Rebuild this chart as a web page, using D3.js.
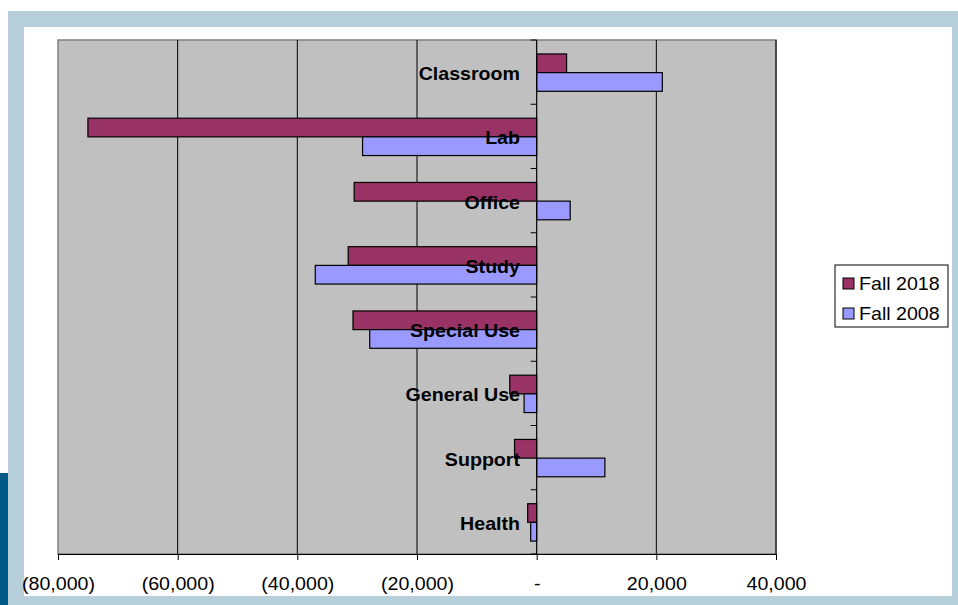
<!DOCTYPE html>
<html>
<head>
<meta charset="utf-8">
<script src="https://cdn.jsdelivr.net/npm/d3@7"></script>
<style>
  html, body { margin: 0; padding: 0; background: #fff; }
  svg { display: block; }
</style>
</head>
<body>
<div id="chart"></div>
<script>
const WIDTH = 958;
const HEIGHT = 605;

// data
const categories = ['Classroom', 'Lab', 'Office', 'Study', 'Special Use', 'General Use', 'Support', 'Health'];
const series = ['Fall 2018', 'Fall 2008'];
const fall2018 = [5000, -75000, -30500, -31500, -30700, -4500, -3700, -1500];
const fall2008 = [21000, -29100, 5600, -37000, -27900, -2100, 11400, -1000];
const xTicks = [-80000, -60000, -40000, -20000, 0, 20000, 40000];

const COLORS = ['#993366', '#9999FF'];
const PLOT = { left: 58, right: 776, top: 40, bottom: 554 };
const STRETCH = 1.09;

const svg = d3.select('#chart').append('svg')
    .attr('width', WIDTH)
    .attr('height', HEIGHT)
    .style('font-family', 'Liberation Sans, Arial, sans-serif');

// slide frame
svg.append('rect').attr('x', 8).attr('y', 11).attr('width', WIDTH - 8).attr('height', HEIGHT - 11).attr('fill', '#B7CFDB');
svg.append('rect').attr('x', 24).attr('y', 27).attr('width', 928).attr('height', 569).attr('fill', '#fff');
svg.append('rect').attr('x', 0).attr('y', 473).attr('width', 8).attr('height', HEIGHT - 473).attr('fill', '#005A87');

const x = d3.scaleLinear().domain([-80000, 40000]).range([PLOT.left, PLOT.right]);
const y0 = d3.scaleBand().domain(categories).range([PLOT.top, PLOT.bottom]);
const y1 = d3.scaleBand().domain(series).range([0, y0.bandwidth()]).paddingOuter(0.72);

// plot area
svg.append('rect')
    .attr('x', PLOT.left).attr('y', PLOT.top)
    .attr('width', PLOT.right - PLOT.left).attr('height', PLOT.bottom - PLOT.top)
    .attr('fill', '#C0C0C0')
    .attr('stroke', '#808080')
    .attr('stroke-width', 1.5);

// gridlines
svg.append('g').selectAll('line')
    .data(xTicks.filter(d => d !== -80000 && d !== 0))
    .join('line')
    .attr('x1', d => x(d)).attr('x2', d => x(d))
    .attr('y1', PLOT.top).attr('y2', PLOT.bottom)
    .attr('stroke', '#000').attr('stroke-width', 1);

// bars
const rows = categories.map((c, i) => ({ cat: c, values: [fall2018[i], fall2008[i]] }));
const groups = svg.append('g').selectAll('g')
    .data(rows)
    .join('g')
    .attr('transform', d => `translate(0,${y0(d.cat) + 0.5})`);

groups.selectAll('rect')
    .data(d => d.values.map((v, j) => ({ s: series[j], v: v, j: j })))
    .join('rect')
    .attr('x', d => x(Math.min(0, d.v)))
    .attr('width', d => Math.abs(x(d.v) - x(0)))
    .attr('y', d => y1(d.s))
    .attr('height', y1.bandwidth())
    .attr('fill', d => COLORS[d.j])
    .attr('stroke', '#000')
    .attr('stroke-width', 1.2);

// vertical axis at zero
svg.append('line')
    .attr('x1', x(0)).attr('x2', x(0))
    .attr('y1', PLOT.top).attr('y2', PLOT.bottom)
    .attr('stroke', '#000').attr('stroke-width', 1.2);

const bounds = categories.map(c => y0(c)).concat([PLOT.bottom]);
svg.append('g').selectAll('line')
    .data(bounds)
    .join('line')
    .attr('x1', x(0) - 6).attr('x2', x(0))
    .attr('y1', d => d).attr('y2', d => d)
    .attr('stroke', '#000').attr('stroke-width', 1);

// category labels
svg.append('g').selectAll('text')
    .data(categories)
    .join('text')
    .attr('transform', d => `translate(520,${y0(d) + y0.bandwidth() / 2 + 8})`)
    .attr('text-anchor', 'end')
    .style('font-size', '18px')
    .style('font-weight', 'bold')
    .attr('fill', '#000')
    .text(d => d)
    .each(function () {
        const t = d3.select(this);
        t.attr('transform', t.attr('transform') + ` scale(${STRETCH},1)`);
    });

// x axis
const fmt = d3.format(',');
const xAxis = svg.append('g')
    .attr('transform', `translate(0,${PLOT.bottom})`)
    .call(d3.axisBottom(x).tickValues(xTicks).tickSize(6).tickSizeOuter(0)
        .tickFormat(d => d < 0 ? `(${fmt(-d)})` : d === 0 ? '-' : fmt(d)));
xAxis.select('.domain').attr('stroke', '#000').attr('stroke-width', 1.2);
xAxis.selectAll('.tick line').attr('stroke', '#000');
xAxis.selectAll('.tick text')
    .attr('y', null).attr('dy', null)
    .attr('transform', `translate(0,35.5) scale(${STRETCH},1)`)
    .attr('fill', '#000')
    .style('font-size', '18px')
    .style('font-family', 'Liberation Sans, Arial, sans-serif');

// legend
const legend = svg.append('g').attr('transform', 'translate(835,265)');
legend.append('rect')
    .attr('width', 113).attr('height', 62)
    .attr('fill', '#fff').attr('stroke', '#000').attr('stroke-width', 1);
const items = legend.selectAll('g.item')
    .data(series)
    .join('g')
    .attr('class', 'item')
    .attr('transform', (d, i) => `translate(8,${13 + i * 30})`);
items.append('rect')
    .attr('width', 11).attr('height', 11)
    .attr('fill', (d, i) => COLORS[i])
    .attr('stroke', '#000').attr('stroke-width', 1);
items.append('text')
    .attr('transform', `translate(16,11.5) scale(${STRETCH},1)`)
    .style('font-size', '18px')
    .attr('fill', '#000')
    .text(d => d);
</script>
</body>
</html>
